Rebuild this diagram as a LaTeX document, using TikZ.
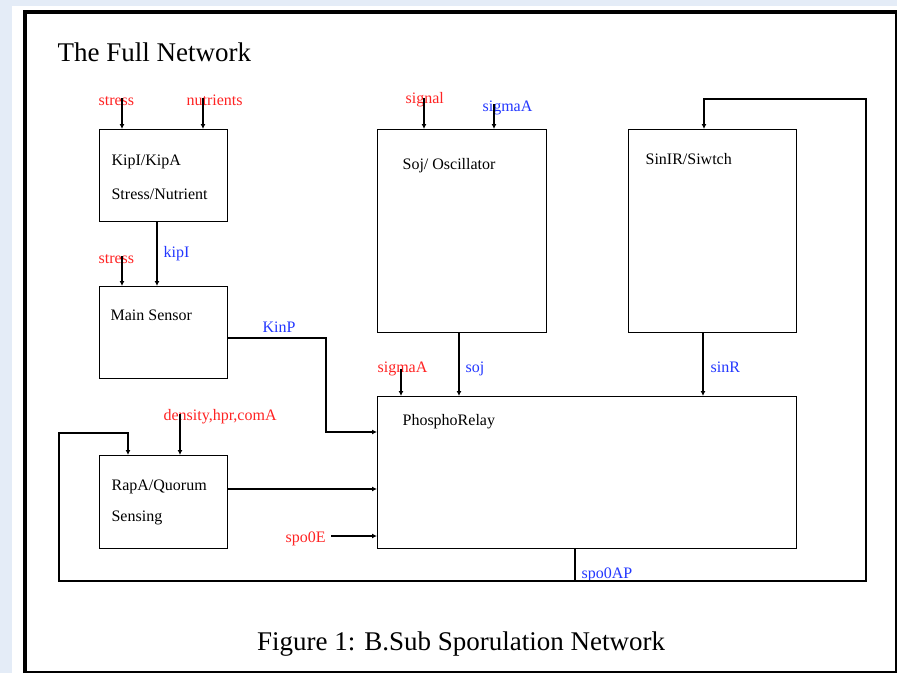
\documentclass[tikz,border=0pt]{standalone}
\usepackage{fontspec}
\setmainfont{Liberation Serif}
\usetikzlibrary{arrows.meta}
\definecolor{inred}{RGB}{255,35,35}
\definecolor{outblue}{RGB}{35,55,255}
\definecolor{pageblue}{RGB}{228,236,247}

\begin{document}
\begin{tikzpicture}[x=1pt,y=-1pt,line width=1.2pt,>={Latex[length=5pt,width=5pt]}]

      \useasboundingbox (0,0) rectangle (897,673);
      \fill[pageblue] (0,0) rectangle (897,673);
      \fill[white] (12,6) rectangle (897,673);
      \draw[line width=4pt] (25,673) -- (25,12) -- (897,12);
      \draw[line width=1.5pt] (25,672) -- (896,672) -- (896,12);

      \node[anchor=base west, inner sep=0, font=\fontsize{27}{30}\selectfont] (title) at (57,61) {The Full Network};
      \node[anchor=base, inner sep=0, font=\fontsize{27}{30}\selectfont] (caption) at (461,650) {Figure 1: B.Sub Sporulation Network};

      \begin{scope}[every node/.style={draw, anchor=north west, inner sep=0, line width=1.3pt}]
        \node[minimum width=128, minimum height=92]  (1) at (99,129)  {};
        \node[minimum width=128, minimum height=92]  (2) at (99,286)  {};
        \node[minimum width=169, minimum height=203] (3) at (377,129) {};
        \node[minimum width=168, minimum height=203] (4) at (628,129) {};
        \node[minimum width=419, minimum height=152] (5) at (377,396) {};
        \node[minimum width=128, minimum height=93]  (6) at (99,455)  {};
      \end{scope}

      \begin{scope}[every node/.style={anchor=base west, inner sep=0, font=\fontsize{16}{18}\selectfont}]
        % box texts
        \node at (111,165) {KipI/KipA};
        \node at (111,199) {Stress/Nutrient};
        \node at (110,320) {Main Sensor};
        \node at (402,169) {Soj/ Oscillator};
        \node at (645,164) {SinIR/Siwtch};
        \node at (402,425) {PhosphoRelay};
        \node at (111,490) {RapA/Quorum};
        \node at (111,521) {Sensing};
        % signals
        \node[inred]   at (98,105)  {stress};
        \node[inred]   at (186,105) {nutrients};
        \node[outblue] at (163,257) {kipI};
        \node[inred]   at (98,263)  {stress};
        \node[inred]   at (405,103) {signal};
        \node[outblue] at (482,111) {sigmaA};
        \node[outblue] at (262,332) {KinP};
        \node[inred]   at (377,372) {sigmaA};
        \node[outblue] at (465,372) {soj};
        \node[outblue] at (710,372) {sinR};
        \node[inred]   at (163,420) {density,hpr,comA};
        \node[inred]   at (285,542) {spo0E};
        \node[outblue] at (581,578) {spo0AP};
      \end{scope}

      \coordinate (s1) at (122,98);
      \coordinate (n1) at (203,98);
      \coordinate (k1) at (157,240);
      \coordinate (s2) at (122,256);
      \coordinate (g1) at (424,98);
      \coordinate (a1) at (494,104);
      \coordinate (kp) at (326,338);
      \coordinate (kq) at (326,432);
      \coordinate (a2) at (401,369);
      \coordinate (sj) at (459,360);
      \coordinate (sr) at (703,360);
      \coordinate (d1) at (180,414);
      \coordinate (rp) at (300,489);
      \coordinate (e0) at (331,536);
      \coordinate (fb) at (575,581);
      \coordinate (fr) at (866,581);
      \coordinate (ft) at (866,99);
      \coordinate (fs) at (704,99);
      \coordinate (fl) at (59,581);
      \coordinate (fu) at (59,433);
      \coordinate (fq) at (128,433);

      \draw[->] (s1) -- (s1 |- 1.north);
      \draw[->] (n1) -- (n1 |- 1.north);
      \draw[->] (k1 |- 1.south) -- (k1 |- 2.north);
      \draw[->] (s2) -- (s2 |- 2.north);
      \draw[->] (g1) -- (g1 |- 3.north);
      \draw[->] (a1) -- (a1 |- 3.north);
      \draw[->] (kp -| 2.east) -- (kp) -- (kq) -- (kq -| 5.west);
      \draw[->] (a2) -- (a2 |- 5.north);
      \draw[->] (sj |- 3.south) -- (sj |- 5.north);
      \draw[->] (sr |- 4.south) -- (sr |- 5.north);
      \draw[->] (d1) -- (d1 |- 6.north);
      \draw[->] (rp -| 6.east) -- (rp -| 5.west);
      \draw[->] (e0) -- (e0 -| 5.west);
      \draw[->] (fb |- 5.south) -- (fb) -- (fr) -- (ft) -- (fs) -- (fs |- 4.north);
      \draw[->] (fb) -- (fl) -- (fu) -- (fq) -- (fq |- 6.north);

    \end{tikzpicture}
\end{document}
